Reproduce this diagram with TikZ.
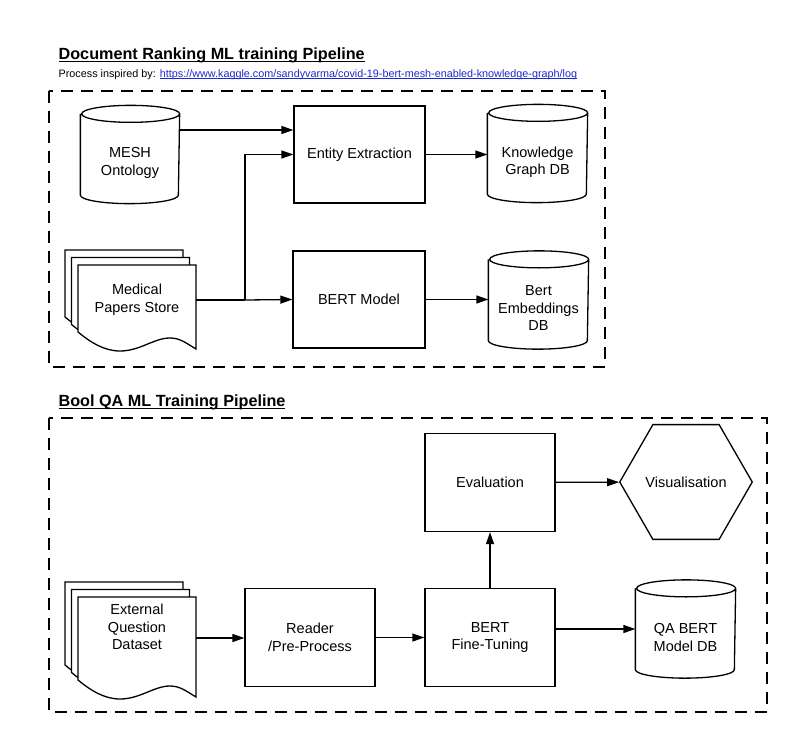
\documentclass[tikz,border=0pt]{standalone}
\usepackage{fontspec}
\setmainfont{Liberation Sans}
\usetikzlibrary{shapes.geometric,arrows.meta}
\definecolor{linkblue}{RGB}{28,40,205}
% underlined text: #1 rule depth, #2 rule thickness, #3 text
\newcommand{\ulbar}[3]{\setbox0\hbox{#3}\rlap{\rule[-#1]{\wd0}{#2}}\box0}
% three paper sheets, front sheet top left at (#1,#2), right side #3 high
\newcommand{\paperstack}[3]{%
  \foreach \dx/\dy in {-13/-15,-6.5/-7.5,0/0}{%
    \begin{scope}[shift={(#1+\dx,#2+\dy)}]
      \draw[fill=white] (0,0) -- (118,0) -- (118,#3)
        .. controls (108,#3-6) and (102,#3-11) .. (92,#3-11)
        .. controls (76,#3-11) and (62,#3+2) .. (42,#3+2)
        .. controls (26,#3+2) and (12,#3-7) .. (0,#3-17) -- cycle;
    \end{scope}}}
% cylinder outline round the db node #1, #2 = half width
\newcommand{\dbline}[2]{%
  \draw ([yshift=8.5pt]#1.north west) -- ([yshift=8.5pt]#1.south west)
    arc[start angle=180,end angle=360,x radius=#2pt,y radius=8.5pt]
    -- ([yshift=8.5pt]#1.north east)
    arc[start angle=0,end angle=360,x radius=#2pt,y radius=8.5pt];}
\begin{document}
\begin{tikzpicture}[>={Triangle[length=12pt,width=8pt]},x=1pt,y=-1pt,
	font=\fontsize{14.5}{17.5}\selectfont,line width=1.3pt,
	box/.style={draw,minimum width=130pt,minimum height=98pt,inner sep=2pt,align=center},
	db/.style={minimum width=99pt,minimum height=80pt,inner sep=0pt,align=center},
	paper/.style={align=center,inner sep=0pt},
	frame/.style={draw,line width=1.5pt,dash pattern=on 12pt off 8pt},
	title/.style={font=\fontsize{16.2}{19}\selectfont\bfseries,anchor=base west,inner sep=0pt}]
	\useasboundingbox (0,0) rectangle (800,744);
	% Document ranking
	\node[title] (t1) at (58,59) {\ulbar{3pt}{1.3pt}{Document Ranking ML training Pipeline}};
	\node[anchor=base west,inner sep=0pt,font=\fontsize{10.8}{12}\selectfont] (src) at (58,77) {Process inspired by: \textcolor{linkblue}{\ulbar{2pt}{0.8pt}{https://www.kaggle.com/sandyvarma/covid-19-bert-mesh-enabled-knowledge-graph/log}}};
	\draw[frame] (49,91) rectangle (605,367);
	\node[db,minimum width=98pt] (mesh) at (130,163) {MESH\\Ontology};
	\dbline{mesh}{49}
	\node[box,minimum width=131pt,minimum height=97pt] (ent) at (359.5,154.5) {Entity Extraction};
	\node[db] (kg) at (537.5,162) {Knowledge\\Graph DB};
	\dbline{kg}{49.5}
	\paperstack{78}{265}{84}
	\node[paper] (med) at (137,299.5) {Medical\\Papers Store};
	\node[box,minimum width=132pt,minimum height=97pt] (bert) at (359,299.5) {BERT Model};
	\node[db] (emb) at (538.5,308.5) {Bert\\Embeddings\\DB};
	\dbline{emb}{49.5}
	\coordinate (medout) at (196,300);
	\coordinate (split) at (245,300);
	\coordinate (meshin) at ([yshift=24.5pt]ent.west);
	\draw (medout) -- (split);
	\draw[->] (split) -- (bert.west);
	\draw[->] (split) |- (ent.west);
	\draw[->] (meshin -| mesh.east) -- (meshin);
	\draw[->] (ent.east) -- (ent.east -| kg.west);
	\draw[->] (bert.east) -- (bert.east -| emb.west);
	% Bool QA
	\node[title] (t2) at (58,406) {\ulbar{3pt}{1.3pt}{Bool QA ML Training Pipeline}};
	\draw[frame] (49,418) rectangle (767,712);
	\paperstack{78}{597}{100}
	\node[paper] (ext) at (137,627) {External\\Question\\Dataset};
	\node[box] (read) at (310,637.5) {Reader\\/Pre-Process};
	\node[box] (tune) at (490,637.5) {BERT\\Fine-Tuning};
	\node[box] (eval) at (490,482.5) {Evaluation};
	\node[draw,regular polygon,regular polygon sides=6,minimum size=130pt,inner sep=0pt] (vis) at (686,482) {Visualisation};
	\node[db] (qa) at (685.5,637.5) {QA BERT\\Model DB};
	\dbline{qa}{49.5}
	\coordinate (extout) at (196,638);
	\coordinate (qain) at ([yshift=8.5pt]qa.west);
	\draw[->] (extout) -- (extout -| read.west);
	\draw[->] (read) -- (tune);
	\draw[->] (tune) -- (eval);
	\draw[->] (eval) -- (vis);
	\draw[->] (qain -| tune.east) -- (qain);
\end{tikzpicture}
\end{document}
